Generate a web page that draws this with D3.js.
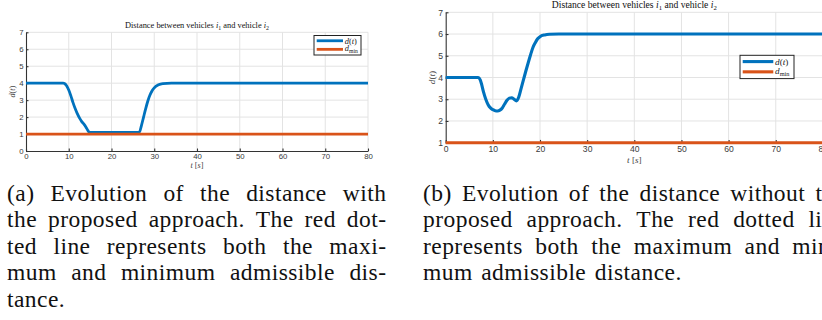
<!DOCTYPE html>
<html>
<head>
<meta charset="utf-8">
<script src="https://cdn.jsdelivr.net/npm/d3@7/dist/d3.min.js"></script>
<style>
  html, body { margin: 0; padding: 0; background: #fff; }
  svg { display: block; }
</style>
</head>
<body>
<svg id="fig" width="822" height="320"></svg>
<script>
// ---- data -------------------------------------------------------------
// (a) distance with the proposed approach
const timeA = [0, 8.7, 9, 9.5, 10, 10.5, 11, 11.5, 12, 12.5, 13, 13.5, 14, 14.5, 14.8,
               20, 26.5, 27, 27.5, 28, 28.5, 29, 29.5, 30, 31, 32, 34, 80];
const distA = [4, 4, 3.98, 3.85, 3.6, 3.25, 2.85, 2.5, 2.2, 1.95, 1.75, 1.6, 1.42, 1.2, 1.1,
               1.1, 1.1, 1.5, 2.0, 2.5, 2.95, 3.3, 3.55, 3.72, 3.9, 3.97, 4.0, 4.0];

// (b) distance without the proposed approach
const timeB = [0, 6.9, 7.3, 7.6, 8.0, 8.5, 9.0, 9.5, 10.0, 10.5, 11.0, 11.5, 12.0, 12.5, 13.0,
               13.5, 14.0, 14.5, 15.0, 15.5, 16.0, 16.5, 17.0, 17.5, 18.0, 18.5, 19.0, 19.5,
               20.0, 21, 22, 24, 80];
const distB = [4, 4, 3.9, 3.7, 3.35, 3.0, 2.75, 2.6, 2.52, 2.47, 2.46, 2.5, 2.6, 2.78, 2.95,
               3.05, 3.07, 3.0, 2.92, 3.1, 3.5, 3.9, 4.3, 4.68, 5.05, 5.38, 5.6, 5.78,
               5.88, 5.96, 5.99, 6, 6];

// minimum admissible distance (constant)
const dminTime = [0, 80];
const dminVal  = [1, 1];

// tick values
const xTicks  = [0, 10, 20, 30, 40, 50, 60, 70, 80];
const yTicksA = [0, 1, 2, 3, 4, 5, 6, 7];
const yTicksB = [1, 2, 3, 4, 5, 6, 7];

// caption lines (last line of each paragraph is set ragged)
const captionA = [
  "(a) Evolution of the distance with",
  "the proposed approach. The red dot-",
  "ted line represents both the maxi-",
  "mum and minimum admissible dis-",
  "tance."
];
const captionB = [
  "(b) Evolution of the distance without the",
  "proposed approach. The red dotted line",
  "represents both the maximum and mini-",
  "mum admissible distance."
];

// ---- drawing ----------------------------------------------------------
const svg = d3.select("#fig");
const BLUE = "#0072BD", ORANGE = "#D95319", AXIS = "#333333", GRID = "#e3e3e3";
const SANS = "'Liberation Sans', Arial, sans-serif";
const SERIF = "'Liberation Serif', 'Times New Roman', serif";

function zip(t, v) { return t.map((d, i) => ({ t: d, v: v[i] })); }

// title with italic i and numeric subscripts
function addTitle(g, x, y, fs) {
  const t = g.append("text").attr("x", x).attr("y", y)
    .attr("text-anchor", "middle").attr("font-family", SERIF)
    .attr("font-size", fs).attr("fill", "#111");
  const sub = fs * 0.7, shift = fs * 0.25;
  t.append("tspan").text("Distance between vehicles ");
  t.append("tspan").attr("font-style", "italic").text("i");
  t.append("tspan").attr("font-size", sub).attr("dy", shift).text("1");
  t.append("tspan").attr("dy", -shift).text(" and vehicle ");
  t.append("tspan").attr("font-style", "italic").text("i");
  t.append("tspan").attr("font-size", sub).attr("dy", shift).text("2");
}

function drawPanel(cfg) {
  const g = svg.append("g");
  const x = d3.scaleLinear().domain([0, 80]).range([cfg.left, cfg.right]);
  const y = d3.scaleLinear().domain(cfg.yDomain).range([cfg.bottom, cfg.top]);

  // grid
  g.append("g").selectAll("line").data(xTicks.slice(1)).join("line")
    .attr("x1", d => x(d)).attr("x2", d => x(d))
    .attr("y1", cfg.top).attr("y2", cfg.bottom)
    .attr("stroke", GRID).attr("stroke-width", 1);
  g.append("g").selectAll("line").data(cfg.yTicks.slice(1)).join("line")
    .attr("x1", cfg.left).attr("x2", cfg.right)
    .attr("y1", d => y(d)).attr("y2", d => y(d))
    .attr("stroke", GRID).attr("stroke-width", 1);

  // axes (ticks point inward)
  const fmt = d3.format("d");
  const ax = g.append("g").attr("transform", `translate(0,${cfg.bottom})`)
    .call(d3.axisBottom(x).tickValues(xTicks).tickFormat(fmt)
      .tickSizeInner(-cfg.tick).tickSizeOuter(0).tickPadding(cfg.xpad));
  const ay = g.append("g").attr("transform", `translate(${cfg.left},0)`)
    .call(d3.axisLeft(y).tickValues(cfg.yTicks).tickFormat(fmt)
      .tickSizeInner(-cfg.tick).tickSizeOuter(0).tickPadding(cfg.ypad));
  [ax, ay].forEach(a => {
    a.select(".domain").attr("stroke", AXIS).attr("stroke-width", 1.1);
    a.selectAll(".tick line").attr("stroke", AXIS).attr("stroke-width", 1.1);
    a.selectAll(".tick text").attr("fill", "#3a3a3a").attr("font-family", SANS).attr("font-size", cfg.fs);
  });

  // series
  const line = d3.line().x(d => x(d.t)).y(d => y(d.v)).curve(d3.curveMonotoneX);
  g.append("path").datum(zip(cfg.time, cfg.dist)).attr("d", line)
    .attr("fill", "none").attr("stroke", BLUE).attr("stroke-width", cfg.lw)
    .attr("stroke-linejoin", "round");
  g.append("path").datum(zip(dminTime, dminVal)).attr("d", line)
    .attr("fill", "none").attr("stroke", ORANGE).attr("stroke-width", cfg.lw);

  // labels
  addTitle(g, (cfg.left + cfg.right) / 2, cfg.titleY, cfg.titleFs);
  const xl = g.append("text").attr("x", (cfg.left + cfg.right) / 2).attr("y", cfg.xlabelY)
    .attr("text-anchor", "middle").attr("font-family", SERIF)
    .attr("font-size", cfg.labelFs).attr("fill", "#444");
  xl.append("tspan").attr("font-style", "italic").text("t");
  xl.append("tspan").text(" [");
  xl.append("tspan").attr("font-style", "italic").text("s");
  xl.append("tspan").text("]");
  const yc = (cfg.top + cfg.bottom) / 2;
  const yl = g.append("text").attr("transform", `translate(${cfg.ylabelX},${yc}) rotate(-90)`)
    .attr("text-anchor", "middle").attr("font-family", SERIF)
    .attr("font-size", cfg.labelFs).attr("fill", "#444");
  yl.append("tspan").attr("font-style", "italic").text("d");
  yl.append("tspan").text("(");
  yl.append("tspan").attr("font-style", "italic").text("t");
  yl.append("tspan").text(")");

  // legend
  const L = cfg.legend;
  const lg = g.append("g");
  lg.append("rect").attr("x", L.x).attr("y", L.y).attr("width", L.w).attr("height", L.h)
    .attr("fill", "#fff").attr("stroke", "#222").attr("stroke-width", 1);
  const rows = [{ c: BLUE, y: L.y + L.h * 0.27 }, { c: ORANGE, y: L.y + L.h * 0.71 }];
  rows.forEach(r => {
    lg.append("line").attr("x1", L.x + 2.7).attr("x2", L.x + L.line)
      .attr("y1", r.y).attr("y2", r.y).attr("stroke", r.c).attr("stroke-width", cfg.lw);
  });
  const tx = L.x + L.line + 1.8;
  const t1 = lg.append("text").attr("x", tx).attr("y", rows[0].y + L.fs * 0.33)
    .attr("font-family", SERIF).attr("font-size", L.fs).attr("fill", "#222");
  t1.append("tspan").attr("font-style", "italic").text("d");
  t1.append("tspan").text("(");
  t1.append("tspan").attr("font-style", "italic").text("t");
  t1.append("tspan").text(")");
  const t2 = lg.append("text").attr("x", tx).attr("y", rows[1].y + L.fs * 0.2)
    .attr("font-family", SERIF).attr("font-size", L.fs).attr("fill", "#222");
  t2.append("tspan").attr("font-style", "italic").text("d");
  t2.append("tspan").attr("font-size", L.fs * 0.68).attr("dy", L.fs * 0.22).text("min");
}

drawPanel({
  left: 26, right: 368, top: 32.3, bottom: 151, yDomain: [0, 7], yTicks: yTicksA,
  time: timeA, dist: distA, fs: 7.8, tick: 2.5, lw: 2.8, xpad: 2.5, ypad: 2.3,
  titleY: 27.5, titleFs: 8.4, xlabelY: 168, ylabelX: 14.5, labelFs: 8.2,
  legend: { x: 314, y: 35.5, w: 47, h: 19.5, line: 29, fs: 8.4 }
});
drawPanel({
  left: 445.7, right: 822.9, top: 12.3, bottom: 142.7, yDomain: [1, 7], yTicks: yTicksB,
  time: timeB, dist: distB, fs: 8.6, tick: 2.8, lw: 3.1, xpad: 2.8, ypad: 2.6,
  titleY: 7.5, titleFs: 9.6, xlabelY: 163, ylabelX: 435, labelFs: 9.2,
  legend: { x: 740, y: 55.3, w: 54, h: 23.3, line: 33.3, fs: 9.2 }
});

// ---- captions (justified) --------------------------------------------
const CAP_FS = 23.5, CAP_LS = 0.45, CAP_SPACE = 9, CAP_LH = 26.5, CAP_Y0 = 200.7;
function caption(lines, x0, x1) {
  const g = svg.append("g").attr("font-family", SERIF).attr("font-size", CAP_FS)
    .attr("letter-spacing", CAP_LS).attr("fill", "#111");
  lines.forEach((ln, i) => {
    const words = ln.split(" ");
    const yy = CAP_Y0 + i * CAP_LH;
    const nodes = words.map(w => g.append("text").attr("y", yy).text(w));
    const widths = nodes.map(n => n.node().getComputedTextLength() - CAP_LS);
    const last = i === lines.length - 1;
    const gap = last ? CAP_SPACE : (x1 - x0 - d3.sum(widths)) / (words.length - 1);
    let xx = x0;
    nodes.forEach((n, j) => { n.attr("x", xx); xx += widths[j] + gap; });
  });
}
caption(captionA, 7, 386);
caption(captionB, 423, 845);
</script>
</body>
</html>
